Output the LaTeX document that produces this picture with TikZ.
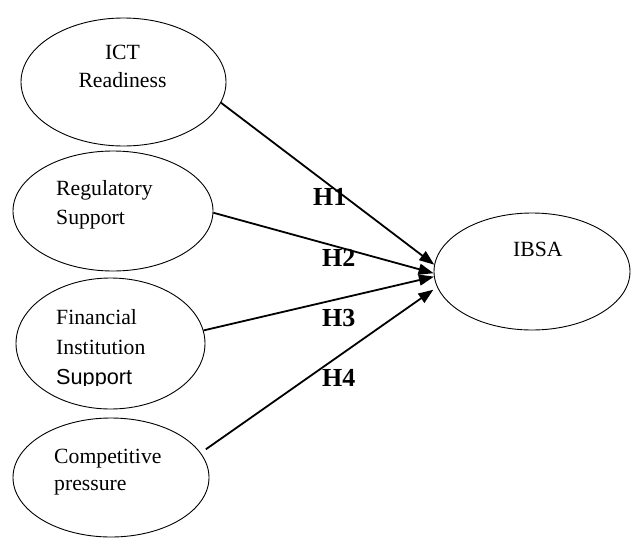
\documentclass[tikz,border=0pt]{standalone}
\usepackage{fontspec}
\setmainfont{Liberation Serif}
\setsansfont{Liberation Sans}
\usetikzlibrary{arrows.meta,shapes.geometric}

\tikzset{
	construct/.style={draw, ellipse, line width=0.9pt, inner sep=0pt},
	txt/.style={inner sep=0pt, anchor=base west, font=\fontsize{21.7}{26}\selectfont},
	hyp/.style={inner sep=0pt, anchor=base west, font=\fontsize{26}{30}\selectfont\bfseries},
	link/.style={line width=1.8pt, -{Triangle[length=15pt,width=11pt]}}
}

\begin{document}
\begin{tikzpicture}[x=1pt, y=-1pt]
		%%%%% START %%%%%
		\useasboundingbox (0, 0) rectangle (631, 538);
		
		% constructs
		\node[construct, minimum width=205pt, minimum height=128pt] (ict) at (123.5, 82) {};
		\node[construct, minimum width=200pt, minimum height=120pt] (reg) at (113, 211) {};
		\node[construct, minimum width=189pt, minimum height=131pt] (fin) at (110.5, 343.5) {};
		\node[construct, minimum width=196pt, minimum height=119pt] (comp) at (111, 477.5) {};
		\node[construct, minimum width=196pt, minimum height=117pt] (ibsa) at (532, 271.5) {};
		
		% texts
		\node[txt, anchor=base] (ictA) at (122.5, 59.3) {ICT};
		\node[txt, anchor=base] (ictB) at (122.5, 87.7) {Readiness};
		\node[txt] (regA) at (56, 195) {Regulatory};
		\node[txt] (regB) at (56, 224.3) {Support};
		\node[txt] (finA) at (56, 324.3) {Financial};
		\node[txt] (finB) at (56, 354.3) {Institution};
		\begin{scope}
			\clip (40, 355) rectangle (200, 385.5);
			\node[txt, font=\fontsize{21.7}{26}\selectfont\sffamily] (finC) at (56, 384) {Support};
		\end{scope}
		\node[txt] (compA) at (54, 463.3) {Competitive};
		\node[txt] (compB) at (54, 490) {pressure};
		\node[txt] (ibsaA) at (513, 256.7) {IBSA};
		
		% hypotheses
		\node[hyp] (h1) at (313, 205.7) {H1};
		\node[hyp] (h2) at (322, 266.7) {H2};
		\node[hyp] (h3) at (322, 326.7) {H3};
		\node[hyp] (h4) at (322, 386.7) {H4};
		
		\draw[link] (ict.-12) -- (ibsa.176);
		\draw[link] (reg.-1) -- (ibsa.181);
		\draw[link] (fin.8) -- (ibsa.183.5);
		\draw[link] ([xshift=8pt]comp.18) -- ([xshift=-5pt]ibsa.191);
		
		%%%%% END %%%%%
	\end{tikzpicture}
\end{document}
